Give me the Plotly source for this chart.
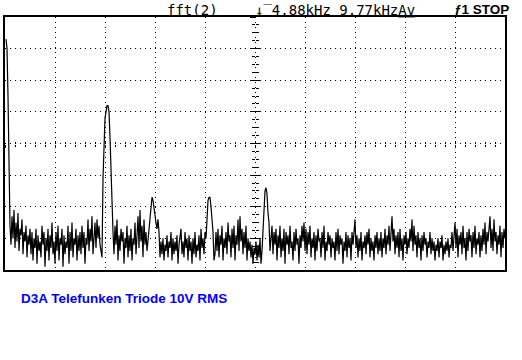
import plotly.graph_objects as go

# ---- data: one FFT record, level in tenths of a vertical division (0 = screen bottom) ----
span_khz = 9.77            # frequency span shown (centre 4.88 kHz)
first_bin_khz = 0.0195
bin_khz = 0.01954

spectrum_level = [
    73, 70, 55, 30, 14, 8, 17, 10, 19, 7, 15, 9, 18, 6, 13, 11, 16, 5, 12, 9, 14, 4, 11, 8, 13,
    5, 12, 3, 10, 7, 13, 2, 11, 6, 9, 4, 14, 8, 12, 1, 10, 6, 13, 3, 11, 7, 15, 5, 9, 2,
    12, 6, 14, 3, 10, 8, 13, 1, 11, 5, 9, 7, 14, 2, 12, 6, 15, 4, 10, 8, 13, 3, 11, 6, 12,
    5, 14, 7, 12, 2, 10, 8, 16, 6, 13, 9, 17, 5, 11, 15, 7, 16, 10, 14, 8, 6, 4, 29, 40, 48,
    50, 52, 52, 50, 42, 30, 22, 12, 5, 14, 8, 16, 3, 11, 6, 13, 9, 12, 2, 10, 7, 14, 4, 11, 6,
    13, 3, 10, 8, 15, 5, 12, 17, 7, 19, 9, 14, 4, 16, 8, 12, 6, 10, 14, 17, 21, 23, 22, 19, 16,
    15, 13, 16, 12, 4, 9, 5, 10, 3, 8, 6, 11, 4, 9, 7, 12, 3, 10, 5, 9, 6, 11, 2, 8, 10,
    13, 5, 9, 4, 12, 7, 10, 3, 11, 6, 9, 2, 10, 5, 12, 4, 8, 6, 11, 3, 13, 7, 10, 5, 12,
    10, 18, 22, 23, 23, 20, 16, 12, 3, 5, 12, 6, 13, 4, 11, 8, 14, 3, 10, 7, 12, 5, 15, 9, 11,
    4, 13, 7, 14, 3, 11, 8, 16, 6, 17, 9, 13, 5, 12, 7, 14, 3, 10, 6, 9, 4, 8, 2, 7, 5,
    9, 3, 8, 4, 10, 2, 6, 14, 20, 25, 26, 24, 18, 15, 6, 10, 14, 5, 12, 8, 13, 3, 11, 7, 14,
    4, 10, 6, 13, 2, 12, 8, 11, 5, 14, 7, 9, 3, 12, 6, 13, 8, 10, 2, 11, 7, 14, 9, 15, 6,
    13, 5, 12, 8, 14, 4, 10, 7, 12, 3, 11, 6, 13, 9, 10, 4, 12, 7, 14, 3, 9, 6, 12, 8, 11,
    4, 10, 7, 9, 3, 12, 6, 13, 5, 11, 8, 10, 2, 9, 6, 12, 4, 11, 7, 10, 3, 12, 8, 14, 16,
    7, 11, 4, 10, 6, 12, 3, 9, 7, 11, 5, 12, 8, 13, 4, 10, 6, 9, 3, 11, 7, 12, 5, 10, 6,
    12, 4, 10, 7, 13, 5, 11, 8, 14, 6, 12, 17, 9, 13, 5, 11, 7, 12, 4, 13, 6, 10, 3, 11, 8,
    12, 5, 10, 7, 13, 9, 16, 6, 14, 8, 11, 4, 12, 7, 10, 3, 11, 6, 12, 8, 10, 4, 9, 7, 12,
    5, 10, 6, 9, 3, 8, 6, 10, 4, 9, 7, 11, 3, 8, 5, 9, 6, 10, 4, 8, 7, 12, 6, 13, 15,
    7, 13, 4, 11, 8, 12, 5, 14, 7, 10, 3, 12, 6, 13, 9, 11, 4, 12, 7, 14, 5, 10, 8, 12, 4,
    11, 6, 13, 8, 15, 5, 12, 9, 14, 17, 7, 13, 6, 16, 9, 12, 5, 11, 8, 14, 4, 12, 7, 13, 10,
]
freq_khz = [first_bin_khz + bin_khz * i for i in range(len(spectrum_level))]

x_divs = 10
y_divs = 8
y_full = 80  # tenths of division

title_left = "fft(2)"
title_mid = "↓‾4.88kHz 9.77kHz<u>Av</u>"
title_right = "ƒ1 STOP"
caption = "D3A Telefunken Triode 10V RMS"

fig = go.Figure()
fig.add_trace(go.Scatter(x=freq_khz, y=spectrum_level, mode="lines",
                         line=dict(color="black", width=1.2), showlegend=False,
                         hoverinfo="skip"))
# empty traces so the centre tick axes get drawn
for xa, ya in [("x2", "y"), ("x3", "y"), ("x", "y2"), ("x", "y3")]:
    fig.add_trace(go.Scatter(x=[], y=[], xaxis=xa, yaxis=ya, showlegend=False))

xdiv = span_khz / x_divs
ydiv = y_full / y_divs
grid = dict(showgrid=True, gridcolor="black", gridwidth=1, griddash="1px,4px",
            zeroline=False, showticklabels=False, ticks="",
            showline=True, linecolor="black", linewidth=2, mirror=True)

fig.update_layout(
    width=522, height=360,
    margin=dict(l=5, r=17, t=17, b=90),
    paper_bgcolor="white", plot_bgcolor="white",
    xaxis=dict(range=[0, span_khz], tickmode="linear", tick0=0, dtick=xdiv, **grid),
    yaxis=dict(range=[0, y_full], tickmode="linear", tick0=0, dtick=ydiv, **grid),
)

def centre_x(side):
    return dict(overlaying="x", anchor="free", position=0.5, range=[0, span_khz],
                tickmode="linear", tick0=0, dtick=xdiv, ticks=side, ticklen=3,
                tickwidth=1, tickcolor="black", showticklabels=False,
                showgrid=False, zeroline=False, showline=False,
                minor=dict(ticks=side, tick0=0, dtick=xdiv / 5, ticklen=2,
                           tickwidth=1, tickcolor="black", showgrid=False))

def centre_y(side):
    return dict(overlaying="y", anchor="free", position=0.5, range=[0, y_full],
                tickmode="linear", tick0=0, dtick=ydiv, ticks=side, ticklen=5,
                tickwidth=1, tickcolor="black", showticklabels=False,
                showgrid=False, zeroline=False, showline=False,
                minor=dict(ticks=side, tick0=0, dtick=ydiv / 4, ticklen=3,
                           tickwidth=1, tickcolor="black", showgrid=False))

fig.update_layout(xaxis2=centre_x("outside"), xaxis3=centre_x("inside"),
                  yaxis2=centre_y("outside"), yaxis3=centre_y("inside"))

mono = dict(family="DejaVu Sans Mono", size=14, color="black")
fig.add_annotation(text=title_left, xref="paper", yref="paper", x=0.32, y=1.028,
                   xanchor="left", yanchor="middle", showarrow=False, font=mono)
fig.add_annotation(text=title_mid, xref="paper", yref="paper", x=0.496, y=1.028,
                   xanchor="left", yanchor="middle", showarrow=False, font=mono)
fig.add_annotation(text="<b>" + title_right + "</b>", xref="paper", yref="paper",
                   x=1.012, y=1.028, xanchor="right", yanchor="middle", showarrow=False,
                   font=dict(family="Liberation Sans", size=13.5, color="black"))
fig.add_annotation(text="<b>" + caption + "</b>", xref="paper", yref="paper",
                   x=0.028, y=-0.111, xanchor="left", yanchor="middle", showarrow=False,
                   font=dict(family="Liberation Sans", size=13.5, color="#0000ff"))

fig.write_html("out.html")
